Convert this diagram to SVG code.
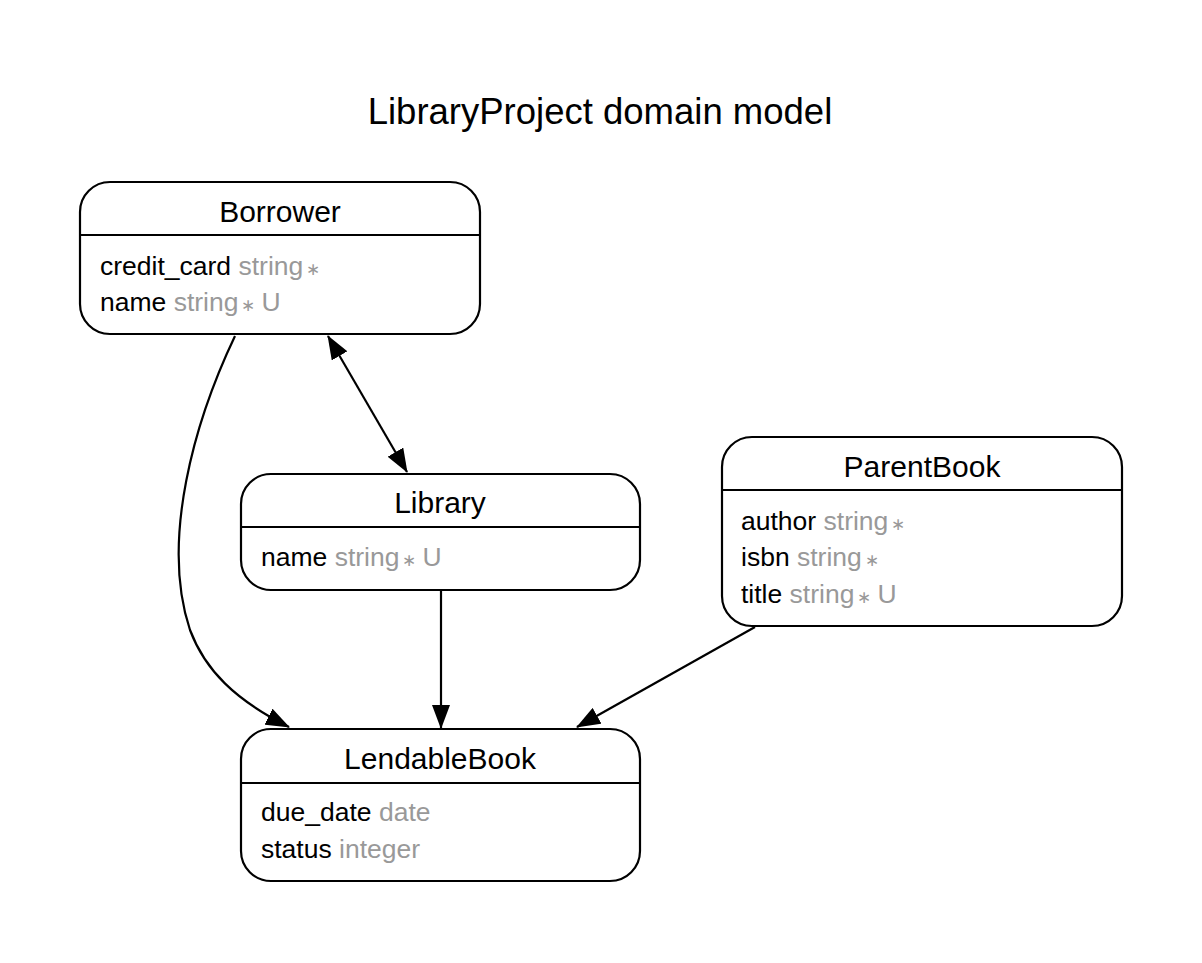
<svg xmlns="http://www.w3.org/2000/svg" width="1202" height="963" viewBox="0 0 1202 963">
<style>
.box{fill:#fff;stroke:#000;stroke-width:2.2}
.sep{stroke:#000;stroke-width:2.2}
.ttl{font-family:"Liberation Sans",Arial,sans-serif;font-size:30px;fill:#000;text-anchor:middle}
.att{font-family:"Liberation Sans",Arial,sans-serif;font-size:26.5px;fill:#000}
.typ{fill:#999}
.star{fill:#999;font-size:17px}
.edge{fill:none;stroke:#000;stroke-width:2.2}
.head{font-family:"Liberation Sans",Arial,sans-serif;font-size:36.5px;fill:#000;text-anchor:middle}
</style>
<defs>
<marker id="arr" viewBox="0 0 24 18" refX="23" refY="9" markerWidth="24" markerHeight="18" markerUnits="userSpaceOnUse" orient="auto-start-reverse">
<path d="M0,0 L24,9 L0,18 z" fill="#000"/>
</marker>
</defs>
<rect width="1202" height="963" fill="#fff"/>
<text class="head" x="600" y="124">LibraryProject domain model</text>
<g id="edges">
<path class="edge" d="M235,336 C195,420 160,540 190,630 C205,670 235,700 289,727" marker-end="url(#arr)"/>
<path class="edge" d="M328,336 L407,472" marker-start="url(#arr)" marker-end="url(#arr)"/>
<path class="edge" d="M441,590 L441,728" marker-end="url(#arr)"/>
<path class="edge" d="M755,627 L577,727" marker-end="url(#arr)"/>
</g>
<g id="Borrower">
<rect class="box" x="80" y="182" width="400" height="152" rx="30"/>
<line class="sep" x1="80" y1="235" x2="480" y2="235"/>
<text class="ttl" x="280" y="222">Borrower</text>
<text class="att" x="100" y="275">credit_card <tspan class="typ">string</tspan><tspan class="star" dx="3">∗</tspan></text>
<text class="att" x="100" y="311">name <tspan class="typ">string</tspan><tspan class="star" dx="3">∗</tspan><tspan class="typ" dx="6">U</tspan></text>
</g>
<g id="Library">
<rect class="box" x="241" y="474" width="399" height="116" rx="30"/>
<line class="sep" x1="241" y1="527" x2="640" y2="527"/>
<text class="ttl" x="440" y="513">Library</text>
<text class="att" x="261" y="566">name <tspan class="typ">string</tspan><tspan class="star" dx="3">∗</tspan><tspan class="typ" dx="6">U</tspan></text>
</g>
<g id="ParentBook">
<rect class="box" x="722" y="437" width="400" height="189" rx="30"/>
<line class="sep" x1="722" y1="490" x2="1122" y2="490"/>
<text class="ttl" x="922" y="477">ParentBook</text>
<text class="att" x="741" y="530">author <tspan class="typ">string</tspan><tspan class="star" dx="3">∗</tspan></text>
<text class="att" x="741" y="566">isbn <tspan class="typ">string</tspan><tspan class="star" dx="3">∗</tspan></text>
<text class="att" x="741" y="603">title <tspan class="typ">string</tspan><tspan class="star" dx="3">∗</tspan><tspan class="typ" dx="6">U</tspan></text>
</g>
<g id="LendableBook">
<rect class="box" x="241" y="729" width="399" height="152" rx="30"/>
<line class="sep" x1="241" y1="783" x2="640" y2="783"/>
<text class="ttl" x="440" y="769">LendableBook</text>
<text class="att" x="261" y="821">due_date <tspan class="typ">date</tspan></text>
<text class="att" x="261" y="858">status <tspan class="typ">integer</tspan></text>
</g>
</svg>
